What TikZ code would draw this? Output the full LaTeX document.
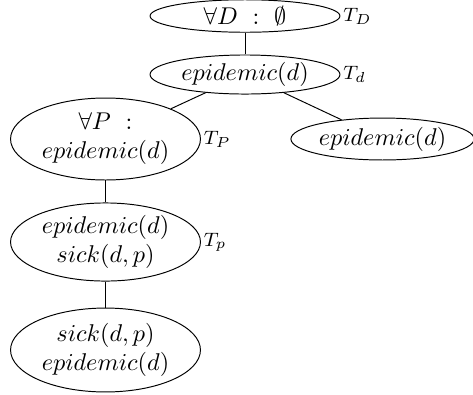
\documentclass[tikz,border=0pt]{standalone}
\usepackage{amsmath}
\usepackage{tikz}
\usetikzlibrary{shapes.geometric, positioning}
\tikzset{
  state/.style={ellipse, draw, inner sep=0pt, align=center,
    minimum width=78.3pt, line width=0.4pt},
  tlabel/.style={font=\footnotesize, inner sep=1pt},
  link/.style={line width=0.4pt}
}

\begin{document}
\begin{tikzpicture}[x=0.4123pt, y=-0.4123pt]
  \useasboundingbox (0,0) rectangle (473,394);

  % Top of the tree
  \node[state, minimum height=13.4pt, label={[tlabel]right:$T_D$}] (root) at (245,16) {$\forall D\ :\ \emptyset$};
  \node[state, minimum height=16.1pt, label={[tlabel]right:$T_d$}] (epi) at (245,74.5) {$epidemic(d)$};

  % Children of epidemic(d)
  \node[state, minimum height=33.8pt, label={[tlabel]right:$T_P$}] (allp) at (105.5,139) {$\forall P\ :$\\$epidemic(d)$};
  \node[state, minimum width=75.5pt, minimum height=17.3pt] (epir) at (382.5,139) {$epidemic(d)$};

  % Lower chain
  \node[state, minimum height=32.2pt, label={[tlabel]right:$T_p$}] (sickp) at (105.5,242) {$epidemic(d)$\\$sick(d,p)$};
  \node[state, minimum height=34.6pt] (leaf) at (105.5,350) {$sick(d,p)$\\$epidemic(d)$};

  % Connections
  \draw[link] (root) -- (epi);
  \draw[link] (epi) -- (allp);
  \draw[link] (epi) -- (epir);
  \draw[link] (allp) -- (sickp);
  \draw[link] (sickp) -- (leaf);
\end{tikzpicture}
\end{document}
